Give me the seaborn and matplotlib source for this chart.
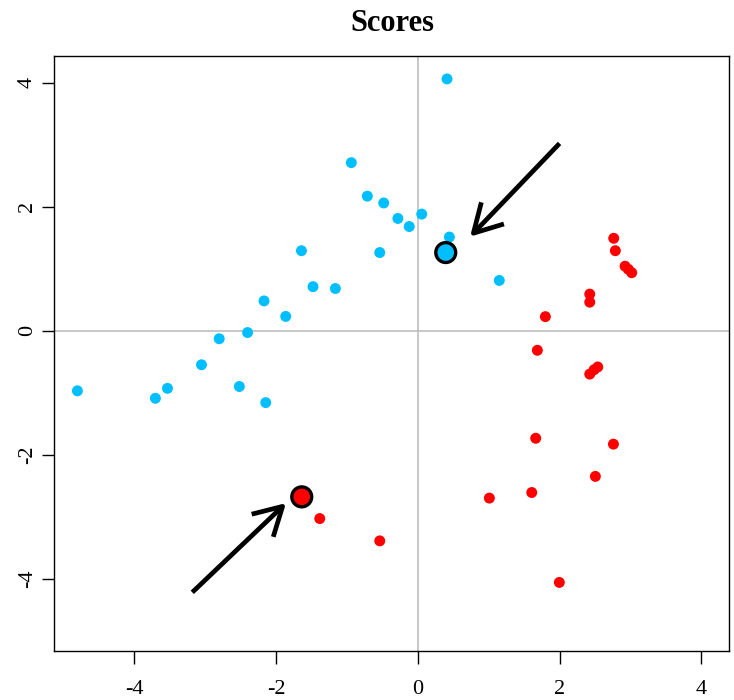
import numpy as np
import pandas as pd
import matplotlib
matplotlib.use("Agg")
import matplotlib.pyplot as plt
import seaborn as sns

# Score coordinates for the two groups
blue_x = [0.413, -0.937, -0.711, -0.48, -0.28, -0.12, 0.056, 0.446, -1.64, -0.536,
          1.15, -1.477, -1.162, -2.168, -1.862, -2.40, -2.80, -3.05, -2.516, -2.144,
          -4.80, -3.70, -3.53, 0.40]
blue_y = [4.06, 2.71, 2.17, 2.06, 1.81, 1.68, 1.88, 1.51, 1.29, 1.26,
          0.81, 0.71, 0.68, 0.48, 0.23, -0.03, -0.13, -0.55, -0.90, -1.16,
          -0.97, -1.09, -0.93, 1.24]
red_x = [2.764, 2.787, 2.924, 2.97, 3.018, 2.426, 2.426, 1.80, 1.687, 2.426,
         2.487, 2.539, -1.382, -0.536, 1.664, 2.505, 1.608, 1.01, 1.997, 2.76, -1.60]
red_y = [1.49, 1.29, 1.04, 0.99, 0.935, 0.59, 0.46, 0.226, -0.316, -0.70,
         -0.63, -0.585, -3.03, -3.39, -1.735, -2.35, -2.61, -2.70, -4.06, -1.83, -2.72]

# Highlighted observations, one per group
hl_group = ["blue", "red"]
hl_x = [0.395, -1.636]
hl_y = [1.26, -2.68]

# Arrows pointing at the highlighted observations: (tail, tip)
arrow_tails = [(2.0, 3.02), (-3.18, -4.22)]
arrow_tips = [(0.738, 1.516), (-1.857, -2.78)]

group_colors = {"blue": "#00BFFF", "red": "#FF0000"}

scores = pd.DataFrame({
    "x": blue_x + red_x,
    "y": blue_y + red_y,
    "group": ["blue"] * len(blue_x) + ["red"] * len(red_x),
})
highlight = pd.DataFrame({"x": hl_x, "y": hl_y, "group": hl_group})

sns.set_theme(style="ticks")
plt.rcParams["font.family"] = ["Liberation Serif", "DejaVu Serif"]
plt.rcParams["text.color"] = "black"

fig = plt.figure(figsize=(7.34, 7.0), dpi=100)
ax = fig.add_axes([0.0732, 0.07, 0.92, 0.85])

ax.axhline(0, color="#BEBEBE", lw=1.2, zorder=1)
ax.axvline(0, color="#BEBEBE", lw=1.2, zorder=1)

sns.scatterplot(data=scores, x="x", y="y", hue="group", palette=group_colors,
                marker="o", s=62, linewidth=0, legend=False, ax=ax, zorder=3)
sns.scatterplot(data=highlight, x="x", y="y", hue="group", palette=group_colors,
                marker="o", s=205, edgecolor="black", linewidth=2.4,
                legend=False, ax=ax, zorder=4)

for tail, tip in zip(arrow_tails, arrow_tips):
    ax.annotate("", xy=tip, xytext=tail,
                arrowprops=dict(arrowstyle="->,head_length=0.8,head_width=0.45",
                                lw=3.4, color="black", mutation_scale=25,
                                shrinkA=0, shrinkB=0, capstyle="butt"),
                zorder=5)

ax.set_xlim(-5.134, 4.39)
ax.set_ylim(-5.166, 4.43)
ax.set_xticks([-4, -2, 0, 2, 4])
ax.set_yticks([-4, -2, 0, 2, 4])
ax.set_xticklabels(["-4", "-2", "0", "2", "4"])
ax.set_yticklabels(["-4", "-2", "0", "2", "4"], rotation=90, va="center")
ax.tick_params(axis="x", direction="out", length=9, width=1.0, pad=12,
               labelsize=16, colors="black")
ax.tick_params(axis="y", direction="out", length=9, width=1.0, pad=3,
               labelsize=16, colors="black")
ax.set_xlabel("")
ax.set_ylabel("")
for sp in ax.spines.values():
    sp.set_visible(True)
    sp.set_color("black")
    sp.set_linewidth(1.0)
ax.grid(False)

fig.text(0.534, 0.967, "Scores", ha="center", va="center",
         fontsize=22, fontweight="bold", color="black")

fig.savefig("out.png", dpi=100, facecolor="white")
